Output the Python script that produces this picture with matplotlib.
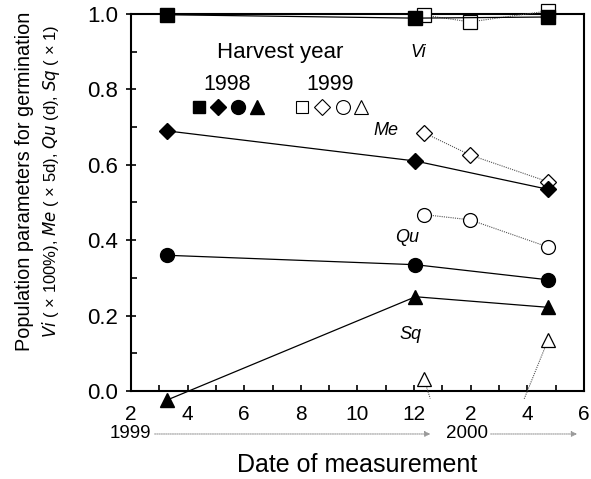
import matplotlib
matplotlib.use('Agg')
import matplotlib.pyplot as plt
from matplotlib.ticker import MultipleLocator, FuncFormatter

plt.rcParams['font.family'] = ['Liberation Sans', 'DejaVu Sans']

# measurement dates, in months counted from Jan 1999 (13 = Jan 2000)
x98 = [3.27, 12.05, 16.73]
x99 = [12.35, 13.98, 16.73]

# harvest 1998 (filled markers)
vi98 = [0.998, 0.989, 0.992]
me98 = [0.69, 0.61, 0.535]
qu98 = [0.36, 0.335, 0.295]
sq98 = [-0.024, 0.25, 0.222]

# harvest 1999 (open markers)
vi99 = [0.997, 0.979, 1.008]
me99 = [0.685, 0.626, 0.555]
qu99 = [0.468, 0.454, 0.382]
sq99_x = [12.35, 16.73]
sq99 = [0.032, 0.135]
# dotted leaders from the open Sq points to below the axis
lead_x = [[12.35, 12.57], [16.73, 15.89]]
lead_y = [[0.032, -0.02], [0.135, -0.021]]

tick_pos = [2, 4, 6, 8, 10, 12, 14, 16, 18]
tick_lab = ['2', '4', '6', '8', '10', '12', '2', '4', '6']

fig = plt.figure(figsize=(5.91, 4.79), dpi=100)
ax = fig.add_axes([0.2217, 0.1837, 0.7663, 0.7871])

solid = dict(color='black', linewidth=0.9, clip_on=False, zorder=3)
dotted = dict(color='#555555', linewidth=0.8, linestyle=(0, (1, 1)), clip_on=False, zorder=3)

series = [(vi98, vi99, 's', 9.5), (me98, me99, 'D', 8.5), (qu98, qu99, 'o', 10)]
for y98, y99, m, ms in series:
    ax.plot(x99, y99, marker=m, markersize=ms, markerfacecolor='white',
            markeredgecolor='black', markeredgewidth=0.9, **dotted)
    ax.plot(x98, y98, marker=m, markersize=ms, markerfacecolor='black',
            markeredgecolor='black', **solid)

for lx, ly in zip(lead_x, lead_y):
    ax.plot(lx, ly, **dotted)
ax.plot(sq99_x, sq99, linestyle='none', marker='^', markersize=10,
        markerfacecolor='white', markeredgecolor='black', markeredgewidth=0.9,
        clip_on=False, zorder=4)
ax.plot(x98, sq98, marker='^', markersize=10, markerfacecolor='black',
        markeredgecolor='black', **solid)

# legend block drawn by hand like the original
ax.text(7.27, 0.897, 'Harvest year', fontsize=16, ha='center', va='center')
ax.text(5.39, 0.812, '1998', fontsize=15.5, ha='center', va='center')
ax.text(9.03, 0.812, '1999', fontsize=15.5, ha='center', va='center')
for lx, m, ms in [(4.40, 's', 8.5), (5.07, 'D', 8), (5.78, 'o', 10), (6.45, '^', 10)]:
    ax.plot([lx], [0.753], marker=m, markersize=ms, color='black', linestyle='none')
for lx, m, ms in [(8.04, 's', 8.5), (8.75, 'D', 8), (9.49, 'o', 10), (10.13, '^', 10)]:
    ax.plot([lx], [0.753], marker=m, markersize=ms, markerfacecolor='white',
            markeredgecolor='black', markeredgewidth=0.8, linestyle='none')

for t, tx, ty in [('Vi', 12.14, 0.897), ('Me', 11.0, 0.692), ('Qu', 11.75, 0.406), ('Sq', 11.86, 0.149)]:
    ax.text(tx, ty, t, fontsize=13, style='italic', ha='center', va='center')

ax.set_xlim(2, 18)
ax.set_ylim(0, 1.0)
ax.set_xticks(tick_pos)
ax.set_xticklabels(tick_lab)
ax.xaxis.set_minor_locator(MultipleLocator(1))
ax.yaxis.set_major_locator(MultipleLocator(0.2))
ax.yaxis.set_minor_locator(MultipleLocator(0.1))
ax.yaxis.set_major_formatter(FuncFormatter(lambda v, p: '%.1f' % v))
ax.tick_params(axis='x', which='both', direction='in', length=4, width=1.2,
               labelsize=15, pad=10)
ax.tick_params(axis='y', which='major', direction='inout', length=7, width=1.2,
               labelsize=16, pad=6)
ax.tick_params(axis='y', which='minor', direction='in', length=4, width=1.2)
for s in ax.spines.values():
    s.set_linewidth(1.5)

# year annotations under the month labels
ax.text(-0.001, -0.114, '1999', transform=ax.transAxes, fontsize=13.5, ha='center', va='center')
ax.text(0.742, -0.114, '2000', transform=ax.transAxes, fontsize=13.5, ha='center', va='center')
arrow = dict(arrowstyle='-|>', color='#999999', linestyle=(0, (1, 1)), linewidth=0.8,
             mutation_scale=8)
ax.annotate('', xy=(0.667, -0.114), xytext=(0.046, -0.114), xycoords='axes fraction',
            arrowprops=arrow)
ax.annotate('', xy=(0.991, -0.114), xytext=(0.788, -0.114), xycoords='axes fraction',
            arrowprops=arrow)

ax.set_xlabel('Date of measurement', fontsize=18, labelpad=21)
fig.text(0.042, 0.622, 'Population parameters for germination', rotation=90,
         fontsize=14.3, ha='center', va='center')
fig.text(0.087, 0.622, r'$\it{Vi}$ ( × 100%), $\it{Me}$ ( × 5d), $\it{Qu}$ (d), $\it{Sq}$ ( × 1)',
         rotation=90, fontsize=12, ha='center', va='center')

fig.savefig('out.png', dpi=100)
